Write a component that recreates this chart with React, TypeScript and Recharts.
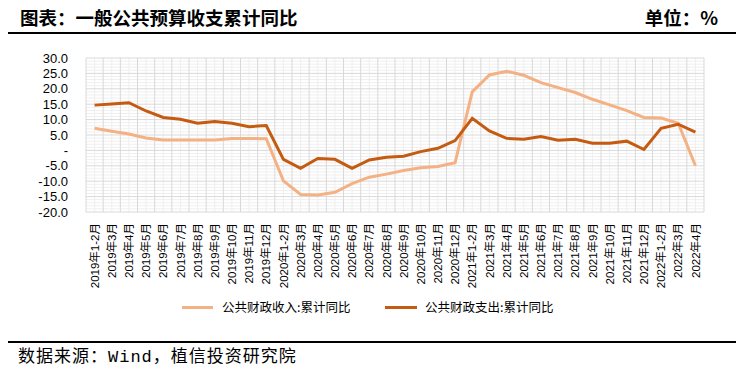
import { LineChart, Line, XAxis, YAxis, ReferenceLine } from "recharts";

const categories = [
  "2019年1-2月", "2019年3月", "2019年4月", "2019年5月", "2019年6月", "2019年7月",
  "2019年8月", "2019年9月", "2019年10月", "2019年11月", "2019年12月",
  "2020年1-2月", "2020年3月", "2020年4月", "2020年5月", "2020年6月", "2020年7月",
  "2020年8月", "2020年9月", "2020年10月", "2020年11月", "2020年12月",
  "2021年1-2月", "2021年3月", "2021年4月", "2021年5月", "2021年6月", "2021年7月",
  "2021年8月", "2021年9月", "2021年10月", "2021年11月", "2021年12月",
  "2022年1-2月", "2022年3月", "2022年4月",
];

const revenue = [
  7.2, 6.2, 5.3, 4.0, 3.4, 3.4, 3.4, 3.4, 3.9, 3.9, 3.8,
  -9.9, -14.3, -14.5, -13.6, -10.8, -8.7, -7.7, -6.5, -5.6, -5.2, -4.0,
  19.0, 24.5, 25.7, 24.4, 22.0, 20.4, 18.8, 16.6, 14.8, 12.9, 10.7,
  10.5, 8.8, -5.0,
];

const expenditure = [
  14.7, 15.1, 15.5, 12.8, 10.7, 10.1, 8.8, 9.4, 8.8, 7.7, 8.1,
  -2.9, -5.8, -2.6, -2.9, -5.8, -3.1, -2.2, -1.9, -0.4, 0.7, 3.2,
  10.4, 6.3, 3.9, 3.6, 4.5, 3.3, 3.6, 2.3, 2.3, 3.0, 0.3,
  7.2, 8.5, 5.9,
];

const yTicks = [-20, -15, -10, -5, 0, 5, 10, 15, 20, 25, 30];

const seriesNames = ["公共财政收入:累计同比", "公共财政支出:累计同比"];
const colors = ["#F4B183", "#C55A11"];

const data = categories.map((c, i) => ({
  x: i + 0.5,
  name: c,
  revenue: revenue[i],
  expenditure: expenditure[i],
}));

// grid helpers
const centers = categories.map((_, i) => i + 0.5);
const bounds = [...categories.map((_, i) => i), categories.length];
const minorY: number[] = [];
for (let v = -20; v <= 30; v++) if (v % 5 !== 0) minorY.push(v);

const CJK = '"Noto Sans CJK SC", sans-serif';
const LATIN = '"Liberation Sans", "Noto Sans CJK SC", sans-serif';

function XTick(props: any) {
  const { x, y, payload } = props;
  const label = categories[Math.floor(payload.value)];
  return (
    <text
      x={x}
      y={y}
      transform={`rotate(-90 ${x} ${y})`}
      textAnchor="end"
      dy="0.36em"
      fontSize={11.5}
      fontFamily={LATIN}
      fill="#000"
    >
      {label}
    </text>
  );
}

export default function App() {
  return (
    <div
      style={{
        position: "absolute",
        left: 0,
        top: 0,
        width: 744,
        height: 369,
        background: "#fff",
        fontFamily: CJK,
        overflow: "hidden",
      }}
    >
      <div style={{ position: "absolute", left: 20, top: 5, fontSize: 18.5, fontWeight: 700, color: "#000", lineHeight: "24px" }}>
        图表：一般公共预算收支累计同比
      </div>
      <div style={{ position: "absolute", right: 26, top: 5, fontSize: 18.5, fontWeight: 700, color: "#000", lineHeight: "24px" }}>
        单位：%
      </div>
      <div style={{ position: "absolute", left: 8, top: 32, width: 728, height: 2, background: "#000" }} />

      <LineChart
        width={744}
        height={369}
        data={data}
        margin={{ top: 58, right: 40, left: 26, bottom: 87 }}
      >
        {minorY.map((v) => (
          <ReferenceLine key={`my${v}`} y={v} stroke="#EFEFEF" strokeWidth={1} />
        ))}
        {centers.map((v) => (
          <ReferenceLine key={`mx${v}`} x={v} stroke="#EFEFEF" strokeWidth={1} />
        ))}
        {yTicks.map((v) => (
          <ReferenceLine key={`gy${v}`} y={v} stroke="#D9D9D9" strokeWidth={1} />
        ))}
        {bounds.map((v) => (
          <ReferenceLine key={`gx${v}`} x={v} stroke="#D9D9D9" strokeWidth={1} />
        ))}
        <XAxis
          dataKey="x"
          type="number"
          domain={[0, categories.length]}
          ticks={centers}
          interval={0}
          axisLine={false}
          tickLine={false}
          tickSize={0}
          tickMargin={11}
          height={70}
          tick={<XTick />}
        />
        <YAxis
          type="number"
          domain={[-20, 30]}
          ticks={yTicks}
          interval={0}
          width={60}
          axisLine={false}
          tickLine={false}
          tickSize={0}
          tickMargin={18}
          tick={{ fontSize: 13, fill: "#000", fontFamily: LATIN }}
          tickFormatter={(v: number) => (v === 0 ? "-" : v.toFixed(1))}
        />
        <Line
          dataKey="revenue"
          stroke={colors[0]}
          strokeWidth={3}
          dot={false}
          isAnimationActive={false}
        />
        <Line
          dataKey="expenditure"
          stroke={colors[1]}
          strokeWidth={3}
          dot={false}
          isAnimationActive={false}
        />
      </LineChart>

      {/* legend */}
      <div style={{ position: "absolute", left: 182, top: 306, width: 31, height: 3, background: colors[0] }} />
      <div style={{ position: "absolute", left: 222, top: 299, fontSize: 12.5, lineHeight: "16px", color: "#000" }}>
        {seriesNames[0]}
      </div>
      <div style={{ position: "absolute", left: 385, top: 306, width: 32, height: 3, background: colors[1] }} />
      <div style={{ position: "absolute", left: 425, top: 299, fontSize: 12.5, lineHeight: "16px", color: "#000" }}>
        {seriesNames[1]}
      </div>

      <div style={{ position: "absolute", left: 8, top: 341, width: 728, height: 2, background: "#000" }} />
      <div style={{ position: "absolute", left: 18, top: 344, fontSize: 17, lineHeight: "22px", letterSpacing: 1, color: "#000" }}>
        数据来源：<span style={{ fontFamily: '"Liberation Mono", monospace' }}>Wind</span>，植信投资研究院
      </div>
    </div>
  );
}
